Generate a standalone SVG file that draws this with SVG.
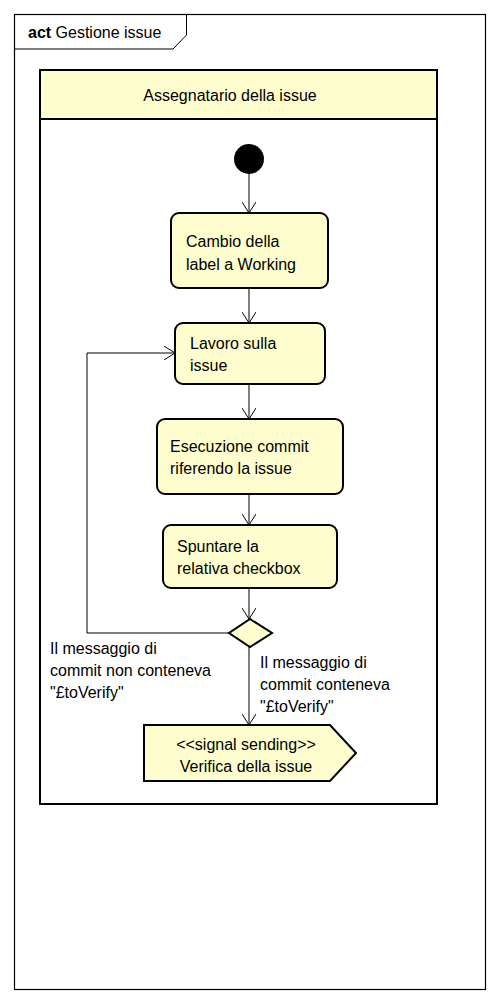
<svg xmlns="http://www.w3.org/2000/svg" width="499" height="1003" viewBox="0 0 499 1003">
<style>
text{font-family:"Liberation Sans",Arial,sans-serif;font-size:16px;fill:#000}
.act{fill:#FEFECE;stroke:#000;stroke-width:2}
.ln{fill:none;stroke:#000;stroke-width:1}
</style>
<defs>
<marker id="ah" viewBox="0 0 12 14" refX="11" refY="7" markerWidth="12" markerHeight="14" markerUnits="userSpaceOnUse" orient="auto">
<path d="M0,0 L11,7 L0,14" fill="none" stroke="#000" stroke-width="1"/>
</marker>
</defs>
<rect width="499" height="1003" fill="#fff"/>
<g id="frame">
<rect x="14.5" y="14.5" width="471" height="975" fill="none" stroke="#000" stroke-width="1.2"/>
<path d="M14.5,49 L173,49 L186.5,35 L186.5,14.5" fill="none" stroke="#000" stroke-width="1"/>
<text x="28" y="38"><tspan font-weight="bold">act</tspan> Gestione issue</text>
</g>
<g id="lane">
<rect x="40" y="70" width="397" height="734" fill="#fff" stroke="#000" stroke-width="2"/>
<rect x="40" y="70" width="397" height="49" fill="#FEFECE" stroke="#000" stroke-width="2"/>
<text x="230" y="101" text-anchor="middle">Assegnatario della issue</text>
</g>
<g id="connectors">
<line class="ln" x1="249" y1="174" x2="249" y2="213" marker-end="url(#ah)"/>
<line class="ln" x1="249" y1="288" x2="249" y2="323" marker-end="url(#ah)"/>
<line class="ln" x1="249" y1="384" x2="249" y2="419" marker-end="url(#ah)"/>
<line class="ln" x1="249" y1="494" x2="249" y2="525" marker-end="url(#ah)"/>
<line class="ln" x1="249" y1="588" x2="249" y2="619" marker-end="url(#ah)"/>
<line class="ln" x1="249" y1="647" x2="249" y2="725" marker-end="url(#ah)"/>
<polyline class="ln" points="229,633 87,633 87,353 175,353" marker-end="url(#ah)"/>
<text x="50" y="654">Il messaggio di</text>
<text x="50" y="676">commit non conteneva</text>
<text x="50" y="698">"£toVerify"</text>
<text x="260" y="668">Il messaggio di</text>
<text x="260" y="690">commit conteneva</text>
<text x="260" y="712">"£toVerify"</text>
</g>
<g id="start">
<circle cx="249" cy="159" r="15" fill="#000"/>
</g>
<g id="n1">
<rect class="act" x="171" y="213" width="157" height="75" rx="8"/>
<text x="186" y="247">Cambio della</text>
<text x="186" y="270">label a Working</text>
</g>
<g id="n2">
<rect class="act" x="175" y="323" width="150" height="61" rx="8"/>
<text x="190" y="349">Lavoro sulla</text>
<text x="190" y="371">issue</text>
</g>
<g id="n3">
<rect class="act" x="157" y="419" width="186" height="75" rx="8"/>
<text x="170" y="452">Esecuzione commit</text>
<text x="170" y="474">riferendo la issue</text>
</g>
<g id="n4">
<rect class="act" x="163" y="525" width="174" height="63" rx="8"/>
<text x="177" y="552">Spuntare la</text>
<text x="177" y="574">relativa checkbox</text>
</g>
<g id="decision">
<polygon class="act" points="250,619 272,633 250,647 229,633"/>
</g>
<g id="signal">
<polygon class="act" points="144,725 330,725 356,753 330,781 144,781"/>
<text x="246" y="750" text-anchor="middle">&lt;&lt;signal sending&gt;&gt;</text>
<text x="246" y="772" text-anchor="middle">Verifica della issue</text>
</g>
</svg>
